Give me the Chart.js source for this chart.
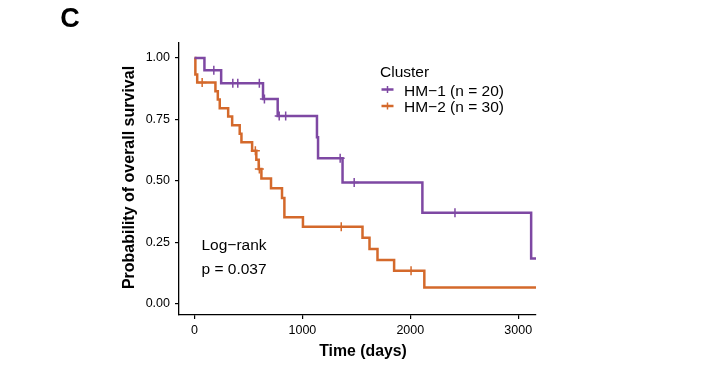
<!DOCTYPE html>
<html><head><meta charset="utf-8">
<script src="https://cdn.jsdelivr.net/npm/chart.js@4"></script>
<style>html,body{margin:0;padding:0;background:#fff}canvas{display:block}</style>
</head><body>
<canvas id="c" width="702" height="370"></canvas>
<script>
const panelLabel = "C";
const legendTitle = "Cluster";
const seriesNames = ["HM\u22121 (n = 20)", "HM\u22122 (n = 30)"];
const xTicks = [0, 1000, 2000, 3000];
const yTicks = [0, 0.25, 0.5, 0.75, 1];
const xTitle = "Time (days)";
const yTitle = "Probability of overall survival";
const annotation = ["Log\u2212rank", "p = 0.037"];

// HM-1 (n = 20): step times and survival after each step
const hm1Times = [0, 92, 247, 635, 771, 1135, 1145, 1372, 2112, 3120, 3165];
const hm1Surv  = [1, 0.95, 0.897, 0.833, 0.764, 0.678, 0.593, 0.494, 0.371, 0.185, 0.185];
const hm1CensorTimes = [179, 355, 401, 601, 648, 785, 845, 1350, 1480, 2414];
const hm1CensorSurv  = [0.95, 0.897, 0.897, 0.897, 0.833, 0.764, 0.764, 0.593, 0.494, 0.371];

// HM-2 (n = 30)
const hm2Times = [0, 8, 8, 25, 194, 216, 234, 312, 349, 419, 435, 534, 573, 595, 620, 709, 811, 833, 833, 1005, 1557, 1622, 1696, 1850, 2130, 3165];
const hm2Surv  = [1, 0.967, 0.933, 0.9, 0.865, 0.831, 0.796, 0.762, 0.727, 0.692, 0.658, 0.623, 0.586, 0.549, 0.51, 0.471, 0.431, 0.392, 0.353, 0.314, 0.269, 0.224, 0.179, 0.135, 0.067, 0.067];
const hm2CensorTimes = [71, 564, 601, 1360, 2007];
const hm2CensorSurv  = [0.9, 0.623, 0.549, 0.314, 0.135];

const purple = '#7E48A3', orange = '#D4692B';
const FONT = '"Liberation Sans", Arial, Helvetica, sans-serif';
const toPts = (xs, ys) => xs.map((x, i) => ({x: x, y: ys[i]}));

const textPlugin = {
  id: 'texts',
  afterDraw(chart) {
    const ctx = chart.ctx;
    ctx.save();
    ctx.fillStyle = '#000';
    ctx.textBaseline = 'alphabetic';
    ctx.textAlign = 'center';
    ctx.font = 'bold 27px ' + FONT;
    ctx.fillText(panelLabel, 70, 26.5);
    ctx.font = 'bold 15.8px ' + FONT;
    ctx.fillText(xTitle, 363, 356);
    ctx.save();
    ctx.translate(133.5, 177.5);
    ctx.rotate(-Math.PI / 2);
    ctx.font = 'bold 16px ' + FONT;
    ctx.fillText(yTitle, 0, 0);
    ctx.restore();
    ctx.textAlign = 'left';
    ctx.font = '15.5px ' + FONT;
    ctx.fillText(annotation[0], 201.5, 250);
    ctx.fillText(annotation[1], 201.5, 274);
    // legend
    ctx.fillText(legendTitle, 380, 76.5);
    const cols = [purple, orange];
    const ys = [89.5, 106];
    for (let i = 0; i < 2; i++) {
      ctx.strokeStyle = cols[i];
      ctx.lineWidth = 2.5;
      ctx.beginPath(); ctx.moveTo(381.5, ys[i]); ctx.lineTo(393.5, ys[i]); ctx.stroke();
      ctx.lineWidth = 1.5;
      ctx.beginPath(); ctx.moveTo(387.5, ys[i] - 3.5); ctx.lineTo(387.5, ys[i] + 3.5); ctx.stroke();
      ctx.fillStyle = '#000';
      ctx.fillText(seriesNames[i], 404, ys[i] + 6);
    }
    ctx.restore();
  }
};

const lineDs = (label, data, col) => ({label, data, borderColor: col, backgroundColor: col, borderWidth: 2.5, stepped: true, pointRadius: 0, fill: false});
const censorDs = (label, data, col) => ({label, data, borderColor: col, backgroundColor: col, showLine: false, pointStyle: 'cross', pointRadius: 4.5, pointBorderWidth: 1.5, borderWidth: 1.5});

new Chart(document.getElementById('c'), {
  type: 'line',
  data: {
    datasets: [
      lineDs(seriesNames[0], toPts(hm1Times, hm1Surv), purple),
      lineDs(seriesNames[1], toPts(hm2Times, hm2Surv), orange),
      censorDs('HM-1 censored', toPts(hm1CensorTimes, hm1CensorSurv), purple),
      censorDs('HM-2 censored', toPts(hm2CensorTimes, hm2CensorSurv), orange)
    ]
  },
  options: {
    responsive: false,
    animation: false,
    layout: {padding: {left: 0, right: 702 - 536, top: 43, bottom: 0}},
    plugins: {legend: {display: false}, tooltip: {enabled: false}},
    scales: {
      x: {
        type: 'linear', min: -143.7, max: 3165,
        afterBuildTicks: s => { s.ticks = xTicks.map(v => ({value: v})); },
        afterFit: s => { s.height = 55; },
        grid: {drawOnChartArea: false, drawTicks: true, tickLength: 4, color: '#000', lineWidth: 1.2},
        border: {display: true, color: '#000', width: 1.3},
        ticks: {color: '#000', font: {family: FONT, size: 12.5}, padding: 4, maxRotation: 0, autoSkip: false, callback: v => String(v)}
      },
      y: {
        type: 'linear', min: -0.0447, max: 1.061,
        afterBuildTicks: s => { s.ticks = yTicks.map(v => ({value: v})); },
        afterFit: s => { s.width = 179; },
        grid: {drawOnChartArea: false, drawTicks: true, tickLength: 4, color: '#000', lineWidth: 1.2},
        border: {display: true, color: '#000', width: 1.3},
        ticks: {color: '#000', font: {family: FONT, size: 12.5}, padding: 5, autoSkip: false, callback: v => Number(v).toFixed(2)}
      }
    }
  },
  plugins: [textPlugin]
});
</script>
</body></html>
